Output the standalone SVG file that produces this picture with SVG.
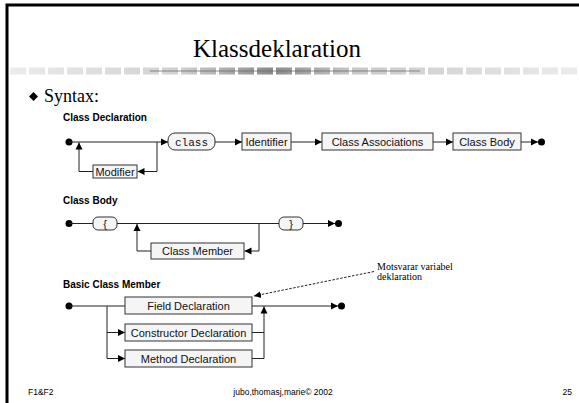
<svg xmlns="http://www.w3.org/2000/svg" width="579" height="403" viewBox="0 0 579 403">
<defs>
<marker id="ah" markerUnits="userSpaceOnUse" markerWidth="8" markerHeight="8" viewBox="0 0 8 8" refX="7" refY="4" orient="auto">
<path d="M0,0.5 L7,4 L0,7.5 Z" fill="#000"/>
</marker>
<linearGradient id="bar" x1="10" y1="0" x2="579" y2="0" gradientUnits="userSpaceOnUse">
<stop offset="0" stop-color="#ececec"/>
<stop offset="0.3" stop-color="#d0d0d0"/>
<stop offset="0.46" stop-color="#8a8a8a"/>
<stop offset="0.6" stop-color="#c8c8c8"/>
<stop offset="1" stop-color="#ececec"/>
</linearGradient>
</defs>
<style>
.box{fill:#f5f5f5;stroke:#333;stroke-width:1}
.lbl{font-family:"Liberation Sans",Arial,sans-serif;font-size:11px;fill:#111;text-anchor:middle}
.mono{font-family:"Liberation Mono","DejaVu Sans Mono",monospace;font-size:11px;fill:#111;text-anchor:middle}
.hdr{font-family:"Liberation Sans",Arial,sans-serif;font-size:10px;font-weight:bold;fill:#000}
.ln{fill:none;stroke:#222;stroke-width:1}
.arr{fill:none;stroke:#222;stroke-width:1;marker-end:url(#ah)}
.dot{fill:#000}
.foot{font-family:"Liberation Sans",Arial,sans-serif;font-size:8.5px;fill:#000}
.note{font-family:"Liberation Serif","Times New Roman",serif;font-size:10px;fill:#000}
</style>
<rect x="0" y="0" width="579" height="403" fill="#fff"/>
<path d="M7,403 V5 H579" fill="none" stroke="#000" stroke-width="3"/>
<text x="277" y="57" font-family="Liberation Serif,'Times New Roman',serif" font-size="25" text-anchor="middle">Klassdeklaration</text>
<line x1="10" y1="71" x2="579" y2="71" stroke="url(#bar)" stroke-width="7" stroke-dasharray="16 3"/>
<line x1="150" y1="71" x2="420" y2="71" stroke="#6a6a6a" stroke-width="1.5" opacity="0.5"/>
<path d="M33.5,92 L38,96.5 L33.5,101 L29,96.5 Z" fill="#000"/>
<text x="44" y="102" font-family="Liberation Serif,'Times New Roman',serif" font-size="18">Syntax:</text>

<text class="hdr" x="63" y="121">Class Declaration</text>
<text class="hdr" x="63" y="204">Class Body</text>
<text class="hdr" x="63" y="288">Basic Class Member</text>

<g id="connectors">
<circle class="dot" cx="69" cy="142" r="3.5"/>
<path class="arr" d="M69,142 H168"/>
<path class="arr" d="M157,142 V171.5 H137.5"/>
<path class="arr" d="M93,171.5 H79 V142.5"/>
<path class="arr" d="M215,142 H242"/>
<path class="arr" d="M291,142 H322"/>
<path class="arr" d="M433,142 H453"/>
<path class="arr" d="M521,142 H538"/>
<circle class="dot" cx="541.5" cy="142" r="3.5"/>

<circle class="dot" cx="69" cy="223.5" r="3.5"/>
<path class="ln" d="M69,223.5 H93"/>
<path class="ln" d="M117,223.5 H279"/>
<path class="arr" d="M259,223.5 V251 H244.5"/>
<path class="arr" d="M151,251 H137 V224"/>
<path class="arr" d="M303,223.5 H335"/>
<circle class="dot" cx="338.5" cy="223.5" r="3.5"/>

<circle class="dot" cx="69" cy="306" r="3.5"/>
<path class="ln" d="M69,306 H125"/>
<path class="arr" d="M107,306 V358.5 H125"/>
<path class="arr" d="M107,332.5 H125"/>
<path class="arr" d="M252,306 H338"/>
<circle class="dot" cx="341.5" cy="306" r="3.5"/>
<path class="ln" d="M252,332.5 H264"/>
<path class="arr" d="M252,358.5 H264 V306.5"/>
<path d="M374,271.5 L254,296" fill="none" stroke="#222" stroke-width="1" stroke-dasharray="2.5 1.5" marker-end="url(#ah)"/>
</g>

<g id="n-class"><rect class="box" x="168" y="133" width="47" height="17" rx="7"/><text class="mono" x="191.5" y="145.5">class</text></g>
<g id="n-modifier"><rect class="box" x="93" y="165" width="44" height="13"/><text class="lbl" x="115" y="175.5">Modifier</text></g>
<g id="n-identifier"><rect class="box" x="242" y="133" width="49" height="17"/><text class="lbl" x="266.5" y="145.5">Identifier</text></g>
<g id="n-assoc"><rect class="box" x="322" y="133" width="111" height="17"/><text class="lbl" x="377.5" y="145.5">Class Associations</text></g>
<g id="n-body"><rect class="box" x="453" y="133" width="68" height="17"/><text class="lbl" x="487" y="145.5">Class Body</text></g>

<g id="n-lbrace"><rect class="box" x="93" y="217" width="24" height="13" rx="5"/><text class="lbl" x="105" y="227.5">{</text></g>
<g id="n-member"><rect class="box" x="151" y="243" width="93" height="16"/><text class="lbl" x="197.5" y="255">Class Member</text></g>
<g id="n-rbrace"><rect class="box" x="279" y="217" width="24" height="13" rx="5"/><text class="lbl" x="291" y="227.5">}</text></g>

<g id="n-field"><rect class="box" x="125" y="297" width="127" height="17"/><text class="lbl" x="188.5" y="309.5">Field Declaration</text></g>
<g id="n-constr"><rect class="box" x="125" y="324" width="127" height="17"/><text class="lbl" x="188.5" y="336.5">Constructor Declaration</text></g>
<g id="n-method"><rect class="box" x="125" y="350" width="127" height="17"/><text class="lbl" x="188.5" y="362.5">Method Declaration</text></g>

<g id="n-note">
<text class="note" x="377" y="270">Motsvarar variabel</text>
<text class="note" x="377" y="280">deklaration</text>
</g>

<text class="foot" x="28" y="395">F1&amp;F2</text>
<text class="foot" x="283" y="395" text-anchor="middle">jubo,thomasj,marie© 2002</text>
<text class="foot" x="572" y="395" text-anchor="end">25</text>
</svg>
